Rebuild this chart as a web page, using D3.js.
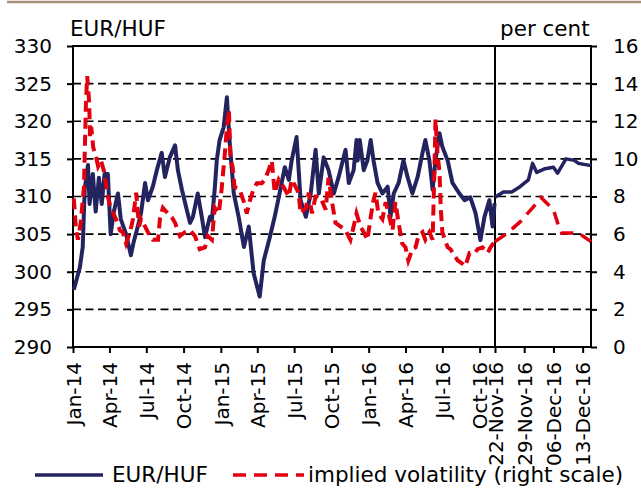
<!DOCTYPE html>
<html lang="en">
<head>
  <meta charset="UTF-8">
  <title>EUR/HUF</title>
  <script src="https://d3js.org/d3.v7.min.js"></script>
  <style>
    body {
      margin: 0;
      background: #fff;
    }
    svg text {
      font-family: "DejaVu Sans", sans-serif;
      fill: #000;
    }
    .grid line {
      stroke: #000;
      stroke-width: 1.6px;
      stroke-dasharray: 8, 4.5;
    }
    .frame {
      stroke: #000;
      stroke-width: 2px;
      fill: none;
    }
    .axis path {
      display: none;
    }
    .axis line {
      stroke: #000;
      stroke-width: 2px;
    }
  </style>
</head>
<body>
  <div id="chart"></div>

  <script>
    // history, EUR/HUF (left scale)
    const histDates = ["2014-01-03","2014-01-10","2014-01-18","2014-01-25","2014-01-30","2014-02-07","2014-02-11","2014-02-19","2014-02-26","2014-03-06","2014-03-13","2014-03-20","2014-03-28","2014-04-04","2014-04-12","2014-04-22","2014-04-29","2014-05-12","2014-05-24","2014-05-31","2014-06-10","2014-06-18","2014-06-28","2014-07-05","2014-07-17","2014-07-27","2014-08-08","2014-08-16","2014-08-28","2014-09-10","2014-09-17","2014-09-27","2014-10-09","2014-10-17","2014-10-24","2014-11-05","2014-11-15","2014-11-23","2014-12-05","2014-12-10","2014-12-17","2014-12-22","2014-12-29","2015-01-08","2015-01-16","2015-01-23","2015-02-02","2015-02-14","2015-02-27","2015-03-11","2015-03-23","2015-04-07","2015-04-17","2015-05-02","2015-05-14","2015-05-26","2015-06-08","2015-06-18","2015-06-25","2015-07-07","2015-07-17","2015-07-30","2015-08-11","2015-08-23","2015-08-31","2015-09-12","2015-09-24","2015-10-07","2015-10-19","2015-11-05","2015-11-13","2015-11-25","2015-12-02","2015-12-05","2015-12-10","2015-12-20","2015-12-29","2016-01-06","2016-01-13","2016-01-23","2016-02-04","2016-02-17","2016-02-24","2016-03-03","2016-03-15","2016-03-27","2016-04-06","2016-04-18","2016-05-01","2016-05-13","2016-05-20","2016-05-30","2016-06-07","2016-06-14","2016-06-24","2016-07-01","2016-07-14","2016-07-26","2016-08-12","2016-08-25","2016-09-08","2016-09-21","2016-10-03","2016-10-13","2016-10-25","2016-11-02","2016-11-07"];
    const histEur = [297.6,299.0,300.6,303.3,311.0,314.2,309.0,313.0,308.0,312.5,309.0,313.0,313.0,305.0,308.0,310.4,307.0,305.0,302.2,304.0,306.0,307.8,311.8,309.5,311.3,313.5,315.8,312.6,315.2,316.8,313.5,310.9,308.2,306.5,307.3,310.4,307.3,304.6,307.3,306.9,311.0,314.8,317.5,319.2,323.2,317.1,310.4,307.3,303.3,306.0,299.8,296.7,301.5,304.6,307.3,310.4,313.9,312.2,314.8,317.9,309.5,307.3,310.4,316.2,310.4,315.2,313.5,310.4,312.6,316.2,311.8,313.5,317.5,314.8,317.5,313.5,314.8,317.5,314.8,311.8,310.4,311.3,307.3,310.4,311.8,314.8,312.6,310.4,312.6,315.8,317.5,314.8,310.9,314.8,318.4,316.6,314.8,311.8,310.4,309.5,309.9,307.8,304.2,307.3,309.5,306.0,309.1];

    // history, implied volatility (right scale, per cent)
    const histVolDates = ["2014-01-03","2014-01-08","2014-01-13","2014-01-20","2014-01-28","2014-01-30","2014-02-02","2014-02-05","2014-02-10","2014-02-12","2014-02-15","2014-02-20","2014-02-27","2014-03-04","2014-03-11","2014-03-18","2014-03-23","2014-03-28","2014-04-04","2014-04-17","2014-04-27","2014-05-04","2014-05-12","2014-05-22","2014-05-29","2014-06-06","2014-06-13","2014-06-18","2014-06-28","2014-07-05","2014-07-17","2014-07-30","2014-08-04","2014-08-11","2014-08-23","2014-09-02","2014-09-10","2014-09-22","2014-10-04","2014-10-17","2014-10-29","2014-11-10","2014-11-23","2014-11-30","2014-12-10","2014-12-17","2014-12-27","2015-01-03","2015-01-11","2015-01-16","2015-01-21","2015-01-25","2015-01-30","2015-02-04","2015-02-16","2015-02-27","2015-03-06","2015-03-14","2015-03-23","2015-03-31","2015-04-12","2015-04-20","2015-04-29","2015-05-07","2015-05-14","2015-05-24","2015-06-05","2015-06-18","2015-06-25","2015-07-05","2015-07-12","2015-07-17","2015-07-30","2015-08-06","2015-08-14","2015-08-23","2015-08-31","2015-09-07","2015-09-17","2015-09-24","2015-10-02","2015-10-11","2015-10-24","2015-11-05","2015-11-17","2015-11-25","2015-12-02","2015-12-12","2015-12-20","2015-12-29","2016-01-06","2016-01-13","2016-01-18","2016-01-25","2016-02-04","2016-02-12","2016-02-19","2016-02-29","2016-03-07","2016-03-15","2016-03-24","2016-04-01","2016-04-08","2016-04-18","2016-04-26","2016-05-03","2016-05-13","2016-05-20","2016-05-30","2016-06-07","2016-06-12","2016-06-14","2016-06-19","2016-06-24","2016-06-27","2016-07-01","2016-07-14","2016-07-21","2016-08-08","2016-08-15","2016-08-27","2016-09-06","2016-09-19","2016-09-26","2016-10-08","2016-10-21","2016-10-28","2016-11-07"];
    const histVol = [7.9,6.4,5.7,6.6,8.5,10.3,13.0,14.4,13.0,11.2,11.7,10.6,10.1,9.6,9.9,9.4,8.7,8.0,7.4,6.8,6.2,6.1,5.5,6.1,6.8,8.2,6.4,6.8,6.4,6.1,5.7,5.7,6.9,7.4,7.1,6.9,6.6,5.9,6.1,6.2,5.9,5.2,5.3,5.9,5.7,7.4,7.1,8.4,10.3,11.7,12.6,9.9,9.6,8.5,8.4,7.7,7.1,7.8,8.4,8.7,8.7,8.9,9.4,9.9,8.2,8.9,8.5,8.0,8.9,8.5,8.2,7.1,7.4,8.2,7.1,8.0,8.0,7.8,7.3,9.0,7.8,6.6,6.4,6.2,5.7,6.4,7.1,6.4,6.1,5.7,6.9,7.8,8.2,7.1,6.8,7.7,7.1,6.2,7.7,6.6,5.5,5.3,4.6,5.2,5.3,5.9,6.1,5.7,6.1,5.7,9.9,12.1,10.3,9.3,7.4,6.1,5.3,5.2,4.6,4.5,4.3,5.0,5.0,5.2,5.3,5.0,5.3,5.6];

    // last weeks (right panel)
    const recentDates = ["2016-11-22","2016-11-24","2016-11-26","2016-11-28","2016-11-30","2016-12-01","2016-12-02","2016-12-04","2016-12-06","2016-12-07","2016-12-09","2016-12-11","2016-12-12","2016-12-15"];
    const recentEur = [309.9,310.6,310.6,311.3,312.2,314.4,313.2,313.7,313.9,313.1,315.0,314.8,314.4,314.1];
    const recentVolDates = ["2016-11-22","2016-11-25","2016-11-28","2016-12-01","2016-12-03","2016-12-06","2016-12-07","2016-12-08","2016-12-12","2016-12-15"];
    const recentVol = [5.6,6.06,6.65,7.4,7.95,7.3,6.6,6.06,6.06,5.6];

    // axis ticks
    const eurTicks = [290, 295, 300, 305, 310, 315, 320, 325, 330];
    const volTicks = [0, 2, 4, 6, 8, 10, 12, 14, 16];
    const histTicks = ["2014-01-01","2014-04-01","2014-07-01","2014-10-01","2015-01-01","2015-04-01","2015-07-01","2015-10-01","2016-01-01","2016-04-01","2016-07-01","2016-10-01"];
    const recentTicks = ["2016-11-22","2016-11-29","2016-12-06","2016-12-13"];

    const parse = d3.timeParse("%Y-%m-%d");

    const width = 641, height = 488;
    const plotLeft = 73, plotSplit = 495, plotRight = 591, plotTop = 46, plotBottom = 347;

    const svg = d3.select("#chart").append("svg")
      .attr("width", width)
      .attr("height", height);

    const yL = d3.scaleLinear().domain([290, 330]).range([plotBottom, plotTop]);
    const yR = d3.scaleLinear().domain([0, 16]).range([plotBottom, plotTop]);
    const xH = d3.scaleTime().domain([parse("2014-01-01"), parse("2016-11-08")]).range([plotLeft, plotSplit]);
    const xR = d3.scaleTime().domain([parse("2016-11-22"), parse("2016-12-15")]).range([plotSplit, plotRight]);

    // top rule
    svg.append("line")
      .attr("x1", 7).attr("x2", width)
      .attr("y1", 2).attr("y2", 2)
      .attr("stroke", "#a8927a").attr("stroke-width", 2.5);

    // grid
    svg.append("g").attr("class", "grid")
      .selectAll("line")
      .data(eurTicks.slice(1, -1))
      .enter().append("line")
      .attr("x1", plotLeft).attr("x2", plotRight)
      .attr("y1", d => yL(d)).attr("y2", d => yL(d));

    // frame
    svg.append("path").attr("class", "frame")
      .attr("d", `M${plotLeft},${plotTop}H${plotRight}V${plotBottom}H${plotLeft}Z M${plotSplit},${plotTop}V${plotBottom}`);

    // axes
    const yAxisL = svg.append("g").attr("class", "axis")
      .attr("transform", `translate(${plotLeft},0)`)
      .call(d3.axisLeft(yL).tickValues(eurTicks).tickSize(6).tickPadding(15));
    yAxisL.selectAll("text").style("font-size", "20px");

    const yAxisR = svg.append("g").attr("class", "axis")
      .attr("transform", `translate(${plotRight},0)`)
      .call(d3.axisRight(yR).tickValues(volTicks).tickSize(6).tickPadding(16));
    yAxisR.selectAll("text").style("font-size", "20px");

    const xAxisH = svg.append("g").attr("class", "axis")
      .attr("transform", `translate(0,${plotBottom})`)
      .call(d3.axisBottom(xH).tickValues(histTicks.map(parse)).tickSize(6)
        .tickFormat(d3.timeFormat("%b-%y")));

    const xAxisR = svg.append("g").attr("class", "axis")
      .attr("transform", `translate(0,${plotBottom})`)
      .call(d3.axisBottom(xR).tickValues(recentTicks.map(parse)).tickSize(6)
        .tickFormat(d3.timeFormat("%d-%b-%y")));

    [xAxisH, xAxisR].forEach(ax => {
      ax.selectAll("text")
        .attr("transform", "rotate(-90)")
        .attr("x", -15).attr("y", 0).attr("dy", "0.36em")
        .style("text-anchor", "end")
        .style("font-size", "20px");
    });

    // titles
    svg.append("text").attr("x", 70).attr("y", 36)
      .style("font-size", "21.5px").text("EUR/HUF");
    svg.append("text").attr("x", 500).attr("y", 36)
      .style("font-size", "21.5px").text("per cent");

    // series
    const lineEurH = d3.line().x((d, i) => xH(parse(histDates[i]))).y(d => yL(d));
    const lineEurR = d3.line().x((d, i) => xR(parse(recentDates[i]))).y(d => yL(d));
    const lineVolH = d3.line().x((d, i) => xH(parse(histVolDates[i]))).y(d => yR(d));
    const lineVolR = d3.line().x((d, i) => xR(parse(recentVolDates[i]))).y(d => yR(d));

    const blue = "#23235f", red = "#e2000f";

    svg.append("path").attr("d", lineEurH(histEur))
      .attr("fill", "none").attr("stroke", blue).attr("stroke-width", 4)
      .attr("stroke-linejoin", "round");
    svg.append("path").attr("d", lineEurR(recentEur))
      .attr("fill", "none").attr("stroke", blue).attr("stroke-width", 3.5)
      .attr("stroke-linejoin", "round");
    svg.append("path").attr("d", lineVolH(histVol))
      .attr("fill", "none").attr("stroke", red).attr("stroke-width", 4)
      .attr("stroke-dasharray", "11,6");
    svg.append("path").attr("d", lineVolR(recentVol))
      .attr("fill", "none").attr("stroke", red).attr("stroke-width", 3.5)
      .attr("stroke-dasharray", "13,8");

    // legend
    const lg = svg.append("g");
    lg.append("line").attr("x1", 35).attr("x2", 103).attr("y1", 475).attr("y2", 475)
      .attr("stroke", blue).attr("stroke-width", 3.5);
    lg.append("text").attr("x", 112).attr("y", 482)
      .style("font-size", "21.5px").text("EUR/HUF");
    lg.append("line").attr("x1", 233).attr("x2", 304).attr("y1", 475).attr("y2", 475)
      .attr("stroke", red).attr("stroke-width", 3.5).attr("stroke-dasharray", "13,8");
    lg.append("text").attr("x", 308).attr("y", 482)
      .style("font-size", "21.5px").text("implied volatility (right scale)");
  </script>
</body>
</html>
